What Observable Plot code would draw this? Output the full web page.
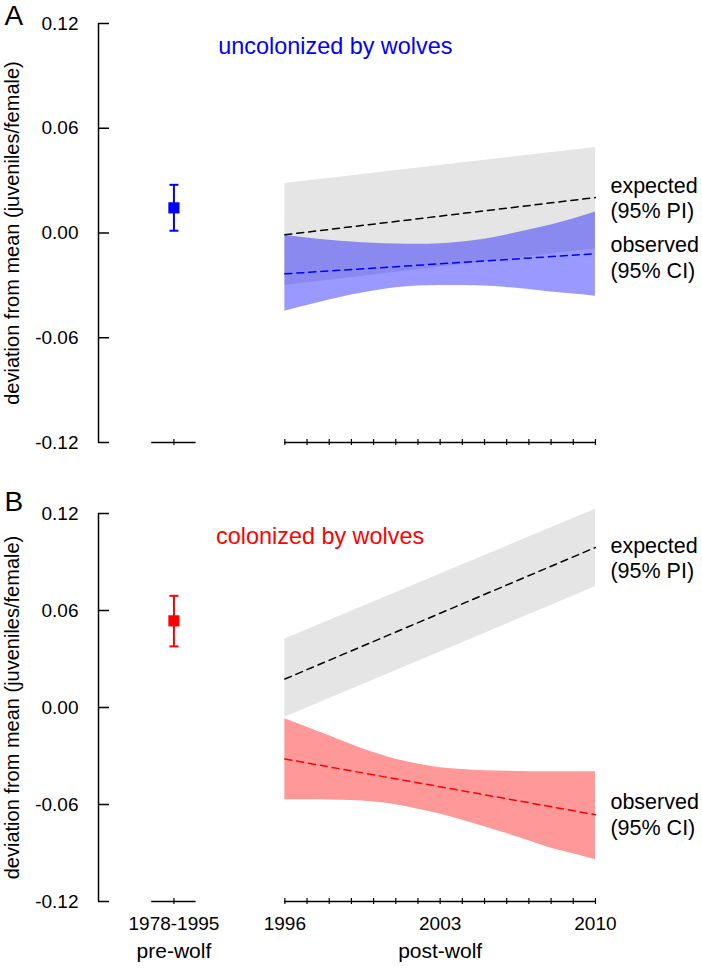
<!DOCTYPE html>
<html><head><meta charset="utf-8">
<script src="https://cdn.jsdelivr.net/npm/d3@7"></script>
<script src="https://cdn.jsdelivr.net/npm/@observablehq/plot@0.6"></script>
<style>
body{margin:0;background:#fff;font-family:"Liberation Sans",Arial,sans-serif}
#wrap{position:relative;width:702px;height:968px;overflow:hidden}
#wrap svg{position:absolute;left:0}
</style></head><body><div id="wrap"></div>
<script>
// ---------- shared ----------
const years = [1996,1997,1998,1999,2000,2001,2002,2003,2004,2005,2006,2007,2008,2009,2010];
const trendYears = [1996, 2010];
const yTicks = [-0.12, -0.06, 0, 0.06, 0.12];
const xLabelTicks = [1996, 2003, 2010];
const preWolfLabel = "1978-1995";
const periodNames = ["pre-wolf", "post-wolf"];
const yLabel = "deviation from mean (juveniles/female)";
const expectedLabel = "expected\n(95% PI)";
const observedLabel = "observed\n(95% CI)";

// ---------- panel A: uncolonized ----------
const aTitle = "uncolonized by wolves";
const aPreMean = 0.0144, aPreLo = 0.0013, aPreHi = 0.0276;
const aExpMean = [-0.0010, 0.0203];
const aExpLo = [-0.0301, -0.0090];
const aExpHi = [0.0284, 0.0490];
const aObsMean = [-0.0234, -0.0119];
const aObsHi = [-0.0014,-0.0029,-0.0042,-0.0052,-0.0059,-0.0063,-0.0064,-0.0061,-0.0052,-0.0036,-0.0011,0.0017,0.0046,0.0080,0.0120];
const aObsLo = [-0.0448,-0.0415,-0.0384,-0.0355,-0.0332,-0.0314,-0.0304,-0.0301,-0.0301,-0.0304,-0.0312,-0.0324,-0.0338,-0.0349,-0.0362];

// ---------- panel B: colonized ----------
const bTitle = "colonized by wolves";
const bPreMean = 0.0536, bPreLo = 0.0378, bPreHi = 0.0691;
const bExpMean = [0.0176, 0.0990];
const bExpLo = [-0.0061, 0.0747];
const bExpHi = [0.0423, 0.1227];
const bObsMean = [-0.0318, -0.0663];
const bObsHi = [-0.0069,-0.0122,-0.0174,-0.0229,-0.0279,-0.0320,-0.0350,-0.0372,-0.0384,-0.0391,-0.0394,-0.0397,-0.0397,-0.0397,-0.0397];
const bObsLo = [-0.0570,-0.0570,-0.0572,-0.0576,-0.0585,-0.0601,-0.0629,-0.0659,-0.0697,-0.0737,-0.0780,-0.0824,-0.0870,-0.0904,-0.0941];

// layout helpers
const preWolfX = 1991;             // centre of the pre-wolf category
const preWolfSpan = [1990, 1992];  // its short axis segment
const xDomain = [1987.6, 2014.6];
const FONT = "Liberation Sans, Arial, sans-serif";

const capSymbol = {
  draw(ctx, size) {
    const r = Math.sqrt(size / Math.PI);
    ctx.moveTo(-r, 0); ctx.lineTo(r, 0);
  }
};

function panel(cfg) {
  const exp = trendYears.map((year, i) => ({year, mean: cfg.expMean[i], lo: cfg.expLo[i], hi: cfg.expHi[i]}));
  const obsTrend = trendYears.map((year, i) => ({year, mean: cfg.obsMean[i]}));
  const obs = years.map((year, i) => ({year, lo: cfg.obsLo[i], hi: cfg.obsHi[i]}));
  const pre = [{x: preWolfX, mean: cfg.preMean, lo: cfg.preLo, hi: cfg.preHi}];
  const x0 = xDomain[0];
  const marks = [
    Plot.areaY(exp, {x: "year", y1: "lo", y2: "hi", fill: "#e5e5e5"}),
    Plot.areaY(obs, {x: "year", y1: "lo", y2: "hi", fill: cfg.color, fillOpacity: 0.4, curve: "monotone-x"}),
    Plot.line(exp, {x: "year", y: "mean", stroke: "black", strokeWidth: 1.5, strokeDasharray: "7,5"}),
    Plot.line(obsTrend, {x: "year", y: "mean", stroke: cfg.color, strokeWidth: 1.5, strokeDasharray: "7,5"}),
    // pre-wolf estimate with error bar
    Plot.ruleX(pre, {x: "x", y1: "lo", y2: "hi", stroke: cfg.color, strokeWidth: 2}),
    Plot.dot(pre, {x: "x", y: "lo", symbol: capSymbol, r: 4.5, stroke: cfg.color, strokeWidth: 2}),
    Plot.dot(pre, {x: "x", y: "hi", symbol: capSymbol, r: 4.5, stroke: cfg.color, strokeWidth: 2}),
    Plot.dot(pre, {x: "x", y: "mean", symbol: "square", r: 6.3, fill: cfg.color}),
    // y axis
    Plot.ruleX([x0], {y1: yTicks[0], y2: yTicks[yTicks.length - 1], stroke: "black", strokeWidth: 1.5}),
    Plot.ruleY(yTicks, {x1: x0, x2: x0, insetRight: -11, stroke: "black", strokeWidth: 1.5}),
    Plot.axisY(yTicks, {tickSize: 0, tickPadding: 20, tickFormat: d => d.toFixed(2), fontSize: 19, label: null}),
    Plot.text([yLabel], {frameAnchor: "left", textAnchor: "middle", rotate: -90, dx: -86, fontSize: 20}),
    // x axis segments
    Plot.ruleY([yTicks[0]], {x1: preWolfSpan[0], x2: preWolfSpan[1], stroke: "black", strokeWidth: 1.5}),
    Plot.ruleY([yTicks[0]], {x1: years[0], x2: years[years.length - 1], stroke: "black", strokeWidth: 1.5}),
    Plot.ruleX([preWolfX, ...years], {y1: yTicks[0], y2: yTicks[0], insetTop: -3, insetBottom: -3, stroke: "black", strokeWidth: 1.2}),
    // annotations
    Plot.text([cfg.letter], {frameAnchor: "top-left", textAnchor: "start", lineAnchor: "top", dx: -94, dy: cfg.letterDy, fontSize: 28}),
    Plot.text([cfg.title], {x: cfg.titleX, y: cfg.titleY, textAnchor: "start", fill: cfg.color, fontSize: 23.4}),
    Plot.text([expectedLabel], {x: trendYears[1], y: cfg.expLabelY, dx: 15, textAnchor: "start", fontSize: 21.5, lineHeight: 1.2}),
    Plot.text([observedLabel], {x: trendYears[1], y: cfg.obsLabelY, dx: 15, textAnchor: "start", fontSize: 21.5, lineHeight: 1.2})
  ];
  if (cfg.showXLabels) {
    const tickVals = [preWolfX, ...xLabelTicks];
    marks.push(
      Plot.axisX(tickVals, {tickSize: 0, tickPadding: 15, fontSize: 19, label: null,
        tickFormat: d => d === preWolfX ? preWolfLabel : String(d)}),
      Plot.text(periodNames, {x: (d, i) => i === 0 ? preWolfX : xLabelTicks[1], text: d => d,
        frameAnchor: "bottom", textAnchor: "middle", dy: 56, fontSize: 21})
    );
  }
  const svg = Plot.plot({
    width: 702, height: cfg.height,
    marginLeft: 98, marginRight: 5, marginTop: cfg.marginTop, marginBottom: cfg.marginBottom,
    x: {domain: xDomain, axis: null},
    y: {domain: [yTicks[0], yTicks[yTicks.length - 1]], axis: null},
    style: {fontFamily: FONT, fontSize: "19px", color: "black", background: "transparent", overflow: "visible"},
    marks
  });
  svg.style.top = cfg.top + "px";
  return svg;
}

const wrap = document.getElementById("wrap");
wrap.append(panel({
  letter: "A", letterDy: -18, top: 0, height: 480, marginTop: 23, marginBottom: 38,
  color: "blue", title: aTitle, titleX: 1993.0, titleY: 0.107,
  preMean: aPreMean, preLo: aPreLo, preHi: aPreHi,
  expMean: aExpMean, expLo: aExpLo, expHi: aExpHi,
  obsMean: aObsMean, obsLo: aObsLo, obsHi: aObsHi,
  expLabelY: 0.0205, obsLabelY: -0.0135, showXLabels: false
}));
wrap.append(panel({
  letter: "B", letterDy: -22, top: 480, height: 488, marginTop: 33, marginBottom: 67,
  color: "red", title: bTitle, titleX: 1992.9, titleY: 0.1056,
  preMean: bPreMean, preLo: bPreLo, preHi: bPreHi,
  expMean: bExpMean, expLo: bExpLo, expHi: bExpHi,
  obsMean: bObsMean, obsLo: bObsLo, obsHi: bObsHi,
  expLabelY: 0.093, obsLabelY: -0.0656, showXLabels: true
}));
</script></body></html>
